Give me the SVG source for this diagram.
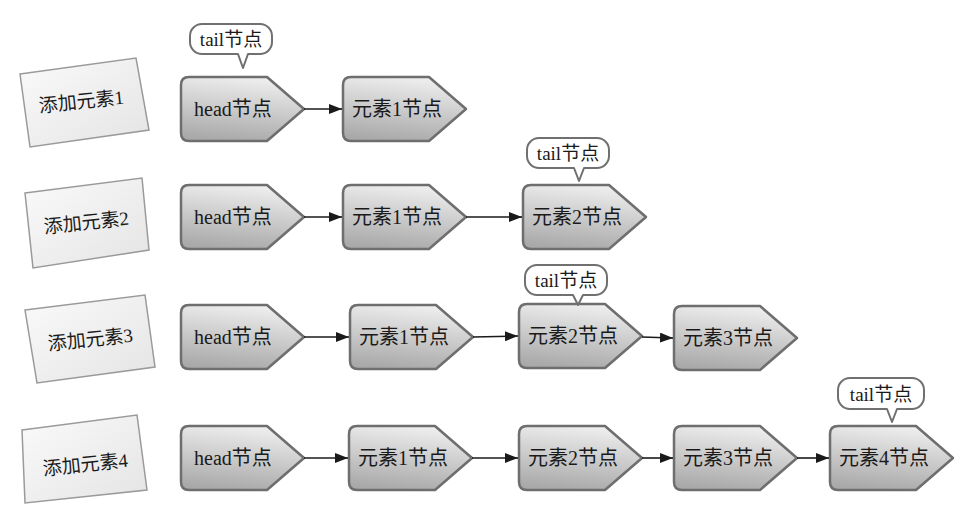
<svg xmlns="http://www.w3.org/2000/svg" width="963" height="506" viewBox="0 0 963 506">
<defs>
<linearGradient id="nodeGrad" x1="0.6" y1="0" x2="0.4" y2="1">
<stop offset="0" stop-color="#efefef"/>
<stop offset="1" stop-color="#a9a9a9"/>
</linearGradient>
<linearGradient id="boxGrad" x1="0" y1="0" x2="1" y2="1">
<stop offset="0" stop-color="#fafafa"/>
<stop offset="1" stop-color="#e4e4e4"/>
</linearGradient>
<marker id="arr" markerUnits="userSpaceOnUse" markerWidth="13" markerHeight="10" refX="13" refY="5" orient="auto">
<path d="M0,0 L13,5 L0,10 Z" fill="#1a1a1a"/>
</marker>
<path id="nodeShape" d="M8,0 H86 L123,32 L86,64 H8 Q0,64 0,56 V8 Q0,0 8,0 Z"/>
</defs>
<style>
.node{fill:url(#nodeGrad);stroke:#6e6e6e;stroke-width:2.5;stroke-linejoin:round}
.box{fill:url(#boxGrad);stroke:#9a9a9a;stroke-width:1.5}
.bubble{fill:#ffffff;stroke:#707070;stroke-width:2;stroke-linejoin:round}
.t{font-family:"Liberation Serif","Noto Sans CJK SC",serif;font-size:20px;fill:#1a1a1a;text-anchor:middle}
.bt{font-family:"Liberation Serif","Noto Sans CJK SC",serif;font-size:19px;fill:#1a1a1a;text-anchor:middle}
.conn line{stroke:#1a1a1a;stroke-width:1.6;marker-end:url(#arr)}
</style>
<rect width="963" height="506" fill="#ffffff"/>

<!-- step boxes -->
<g id="step1"><polygon class="box" points="20,74 136,58 149,130 30,147"/><text class="bt" transform="translate(82,108) rotate(-6)">添加元素1</text></g>
<g id="step2"><polygon class="box" points="25,193 142,178 149,250 33,268"/><text class="bt" transform="translate(87,229) rotate(-6)">添加元素2</text></g>
<g id="step3"><polygon class="box" points="25,310 145,295 155,367 37,383"/><text class="bt" transform="translate(91,346) rotate(-6)">添加元素3</text></g>
<g id="step4"><polygon class="box" points="22,430 137,415 147,490 25,503"/><text class="bt" transform="translate(86,471) rotate(-6)">添加元素4</text></g>

<!-- row 1 -->
<g id="r1-head" transform="translate(181,77)"><use href="#nodeShape" class="node"/><text class="t" x="52" y="39">head节点</text></g>
<g id="r1-e1" transform="translate(343,77)"><use href="#nodeShape" class="node"/><text class="t" x="54" y="39">元素1节点</text></g>
<g id="r1-tail" transform="translate(190,24)"><path class="bubble" d="M12,0 H70 A12 12 0 0 1 82,12 V18 A12 12 0 0 1 70,30 H58 L53,44 L48,30 H12 A12 12 0 0 1 0,18 V12 A12 12 0 0 1 12,0 Z"/><text class="bt" x="41" y="22">tail节点</text></g>

<!-- row 2 -->
<g id="r2-head" transform="translate(181,185)"><use href="#nodeShape" class="node"/><text class="t" x="52" y="39">head节点</text></g>
<g id="r2-e1" transform="translate(343,185)"><use href="#nodeShape" class="node"/><text class="t" x="54" y="39">元素1节点</text></g>
<g id="r2-e2" transform="translate(523,185)"><use href="#nodeShape" class="node"/><text class="t" x="54" y="39">元素2节点</text></g>
<g id="r2-tail" transform="translate(527,138)"><path class="bubble" d="M12,0 H70 A12 12 0 0 1 82,12 V18 A12 12 0 0 1 70,30 H57 L52,43 L47,30 H12 A12 12 0 0 1 0,18 V12 A12 12 0 0 1 12,0 Z"/><text class="bt" x="41" y="22">tail节点</text></g>

<!-- row 3 -->
<g id="r3-head" transform="translate(181,305)"><use href="#nodeShape" class="node"/><text class="t" x="52" y="39">head节点</text></g>
<g id="r3-e1" transform="translate(350,305)"><use href="#nodeShape" class="node"/><text class="t" x="54" y="39">元素1节点</text></g>
<g id="r3-e2" transform="translate(519,304)"><use href="#nodeShape" class="node"/><text class="t" x="54" y="39">元素2节点</text></g>
<g id="r3-e3" transform="translate(674,306)"><use href="#nodeShape" class="node"/><text class="t" x="54" y="39">元素3节点</text></g>
<g id="r3-tail" transform="translate(525,265)"><path class="bubble" d="M12,0 H70 A12 12 0 0 1 82,12 V18 A12 12 0 0 1 70,30 H58 L53,40 L48,30 H12 A12 12 0 0 1 0,18 V12 A12 12 0 0 1 12,0 Z"/><text class="bt" x="41" y="22">tail节点</text></g>

<!-- row 4 -->
<g id="r4-head" transform="translate(181,426)"><use href="#nodeShape" class="node"/><text class="t" x="52" y="39">head节点</text></g>
<g id="r4-e1" transform="translate(349,426)"><use href="#nodeShape" class="node"/><text class="t" x="54" y="39">元素1节点</text></g>
<g id="r4-e2" transform="translate(519,426)"><use href="#nodeShape" class="node"/><text class="t" x="54" y="39">元素2节点</text></g>
<g id="r4-e3" transform="translate(674,426)"><use href="#nodeShape" class="node"/><text class="t" x="54" y="39">元素3节点</text></g>
<g id="r4-e4" transform="translate(830,426)"><use href="#nodeShape" class="node"/><text class="t" x="54" y="39">元素4节点</text></g>
<g id="r4-tail" transform="translate(838,378)"><path class="bubble" d="M12,0 H74 A12 12 0 0 1 86,12 V19 A12 12 0 0 1 74,31 H59 L54,44 L49,31 H12 A12 12 0 0 1 0,19 V12 A12 12 0 0 1 12,0 Z"/><text class="bt" x="43" y="23">tail节点</text></g>

<!-- connectors -->
<g id="connectors" class="conn">
<line x1="304" y1="109" x2="342" y2="109"/>
<line x1="304" y1="217" x2="342" y2="217"/>
<line x1="466" y1="217" x2="522" y2="217"/>
<line x1="304" y1="337" x2="349" y2="337"/>
<line x1="473" y1="337" x2="518" y2="336"/>
<line x1="642" y1="337" x2="673" y2="338"/>
<line x1="304" y1="458" x2="348" y2="458"/>
<line x1="472" y1="458" x2="518" y2="458"/>
<line x1="642" y1="458" x2="673" y2="458"/>
<line x1="797" y1="458" x2="829" y2="458"/>
</g>
</svg>
